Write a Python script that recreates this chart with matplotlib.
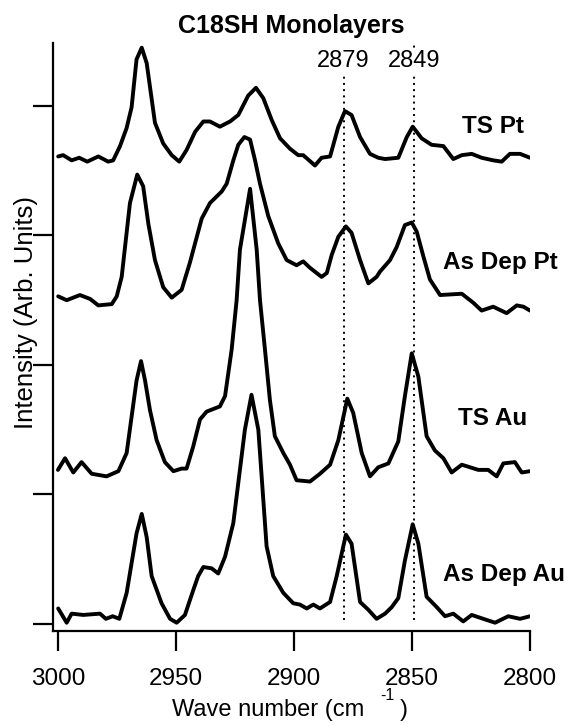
import matplotlib
matplotlib.use("Agg")
import matplotlib.pyplot as plt

plt.rcParams['font.family'] = ['Liberation Sans', 'DejaVu Sans']

# ---------------- data ----------------
trace_names = ["TS Pt", "As Dep Pt", "TS Au", "As Dep Au"]
offsets = [3, 2, 1, 0]

ts_pt_wn = [2999.9, 2997.8, 2994.2, 2991.0, 2987.6, 2982.9, 2978.7, 2976.6, 2973.7, 2970.9,
            2968.8, 2966.7, 2964.5, 2962.4, 2958.9, 2955.4, 2951.8, 2948.6, 2945.5, 2941.9,
            2938.4, 2935.6, 2931.4, 2927.1, 2923.6, 2919.4, 2916.1, 2913.0, 2909.4, 2905.9,
            2901.7, 2898.2, 2896.1, 2891.1, 2888.3, 2884.7, 2881.2, 2878.4, 2875.6, 2872.0,
            2867.8, 2864.3, 2861.4, 2855.8, 2852.2, 2849.7, 2845.9, 2841.7, 2836.7, 2832.5,
            2828.9, 2824.7, 2820.5, 2815.6, 2812.0, 2808.5, 2804.2, 2800.0]
ts_pt_int = [0.61, 0.62, 0.58, 0.60, 0.57, 0.61, 0.57, 0.58, 0.69, 0.83,
             0.99, 1.36, 1.45, 1.33, 0.87, 0.71, 0.62, 0.57, 0.66, 0.80,
             0.88, 0.88, 0.84, 0.88, 0.93, 1.08, 1.14, 1.06, 0.89, 0.75,
             0.67, 0.62, 0.62, 0.54, 0.60, 0.61, 0.84, 0.96, 0.93, 0.76,
             0.63, 0.60, 0.59, 0.60, 0.76, 0.84, 0.75, 0.70, 0.69, 0.59,
             0.62, 0.63, 0.60, 0.58, 0.57, 0.63, 0.63, 0.60]

asdep_pt_wn = [2999.9, 2996.3, 2990.7, 2986.4, 2982.9, 2977.2, 2975.1, 2973.0, 2969.5, 2966.4,
               2963.9, 2961.7, 2958.9, 2955.4, 2951.8, 2947.6, 2944.1, 2941.9, 2939.1, 2935.6,
               2930.6, 2928.5, 2925.7, 2923.6, 2921.0, 2918.6, 2916.5, 2914.4, 2910.9, 2906.7,
               2903.1, 2898.9, 2896.1, 2893.2, 2888.3, 2886.1, 2884.0, 2881.2, 2878.0, 2875.6,
               2872.0, 2868.5, 2865.0, 2863.6, 2859.3, 2856.5, 2853.0, 2850.1, 2848.0, 2845.2,
               2842.4, 2838.1, 2828.9, 2824.0, 2820.5, 2815.6, 2809.9, 2805.6, 2802.8, 2800.0]
asdep_pt_int = [0.53, 0.50, 0.54, 0.51, 0.46, 0.47, 0.53, 0.68, 1.25, 1.47,
                1.38, 1.09, 0.81, 0.60, 0.52, 0.58, 0.79, 0.94, 1.13, 1.25,
                1.34, 1.40, 1.58, 1.70, 1.76, 1.74, 1.58, 1.40, 1.15, 0.94,
                0.81, 0.77, 0.80, 0.75, 0.68, 0.71, 0.85, 0.99, 1.07, 1.02,
                0.81, 0.63, 0.68, 0.72, 0.81, 0.91, 1.08, 1.10, 1.03, 0.84,
                0.66, 0.54, 0.55, 0.48, 0.42, 0.45, 0.40, 0.46, 0.45, 0.42]

ts_au_wn = [3000.0, 2997.0, 2993.5, 2990.0, 2985.7, 2979.4, 2974.4, 2970.9, 2968.8, 2966.7,
            2964.8, 2963.1, 2961.0, 2958.2, 2954.7, 2951.1, 2947.6, 2945.5, 2942.7, 2939.8,
            2937.0, 2931.4, 2929.2, 2926.4, 2924.3, 2922.9, 2918.6, 2915.8, 2914.4, 2912.3,
            2910.2, 2908.1, 2904.5, 2901.7, 2898.9, 2893.2, 2889.0, 2884.7, 2881.2, 2877.4,
            2874.9, 2871.3, 2867.8, 2864.3, 2860.0, 2855.8, 2853.0, 2850.1, 2847.3, 2843.8,
            2840.3, 2836.7, 2833.2, 2828.9, 2821.9, 2817.7, 2814.1, 2811.3, 2806.4, 2803.5,
            2800.0]
ts_au_int = [0.19, 0.28, 0.17, 0.25, 0.16, 0.14, 0.18, 0.32, 0.60, 0.88,
             1.03, 0.88, 0.65, 0.42, 0.25, 0.18, 0.20, 0.20, 0.37, 0.58,
             0.64, 0.68, 0.76, 1.12, 1.50, 1.89, 2.36, 1.89, 1.50, 1.12,
             0.73, 0.45, 0.32, 0.23, 0.11, 0.10, 0.16, 0.23, 0.42, 0.74,
             0.63, 0.32, 0.14, 0.21, 0.24, 0.41, 0.76, 1.09, 0.91, 0.45,
             0.34, 0.28, 0.17, 0.23, 0.19, 0.19, 0.14, 0.24, 0.25, 0.17,
             0.18]

asdep_au_wn = [2999.9, 2996.3, 2994.2, 2989.3, 2982.2, 2979.7, 2976.8, 2974.0, 2970.9, 2968.8,
               2966.7, 2964.5, 2962.4, 2960.3, 2956.1, 2952.5, 2949.7, 2946.2, 2942.7, 2940.6,
               2938.4, 2934.9, 2932.1, 2929.2, 2925.7, 2920.8, 2918.0, 2915.1, 2911.6, 2908.8,
               2904.5, 2900.3, 2897.5, 2894.6, 2891.8, 2889.0, 2884.7, 2881.9, 2878.0, 2875.6,
               2872.0, 2868.5, 2865.0, 2861.4, 2858.6, 2855.8, 2853.0, 2849.7, 2847.3, 2843.8,
               2839.5, 2836.0, 2832.5, 2828.3, 2824.7, 2819.8, 2814.8, 2809.2, 2804.2, 2800.0]
asdep_au_int = [0.12, 0.01, 0.08, 0.07, 0.08, 0.04, 0.06, 0.04, 0.24, 0.47,
                0.70, 0.85, 0.67, 0.37, 0.16, 0.04, 0.01, 0.07, 0.26, 0.37,
                0.44, 0.43, 0.39, 0.52, 0.78, 1.50, 1.77, 1.50, 0.60, 0.37,
                0.24, 0.16, 0.15, 0.12, 0.15, 0.12, 0.17, 0.37, 0.69, 0.62,
                0.17, 0.11, 0.04, 0.08, 0.13, 0.20, 0.49, 0.77, 0.62, 0.21,
                0.13, 0.06, 0.08, 0.02, 0.07, 0.04, 0.01, 0.06, 0.04, 0.06]

marker_wn = [2879, 2849]
marker_labels = ["2879", "2849"]
marker_top = [4.25, 4.47]
xticks = [3000, 2950, 2900, 2850, 2800]
yticks = [0, 1, 2, 3, 4]

traces_wn = [ts_pt_wn, asdep_pt_wn, ts_au_wn, asdep_au_wn]
traces_int = [ts_pt_int, asdep_pt_int, ts_au_int, asdep_au_int]

# label placement (wavenumber of left edge, baseline height)
label_wn = [2828.8, 2836.9, 2830.5, 2836.9]
label_y = [3.79, 2.74, 1.54, 0.33]

# ---------------- figure ----------------
W, H = 569, 725
fig = plt.figure(figsize=(W / 100, H / 100), dpi=100)
ax = fig.add_axes([53 / W, 1 - 631 / H, (530 - 53) / W, (631 - 43) / H])

for wn, inten, off in zip(traces_wn, traces_int, offsets):
    ax.plot(wn, [v + off for v in inten], color='black', lw=2.8,
            solid_joinstyle='round', solid_capstyle='round')

for wn, lab, top in zip(marker_wn, marker_labels, marker_top):
    ax.plot([wn, wn], [0.03, top], color='black', lw=1.4,
            linestyle=(0, (1, 2.2)), clip_on=False)
    ax.text(wn, 4.30, lab, ha='center', va='baseline', fontsize=17,
            bbox=dict(facecolor='white', edgecolor='none', pad=0.5))

for name, lx, ly in zip(trace_names, label_wn, label_y):
    ax.text(lx, ly, name, ha='left', va='baseline', fontsize=17.5,
            fontweight='bold', clip_on=False)

ax.set_xlim(3002.1, 2800)
ax.set_ylim(-0.054, 4.486)
ax.set_xticks(xticks)
ax.set_xticklabels([str(t) for t in xticks])
ax.set_yticks(yticks)
ax.set_yticklabels([])

for s in ['top', 'right']:
    ax.spines[s].set_visible(False)
for s in ['left', 'bottom']:
    ax.spines[s].set_linewidth(1.6)

ax.tick_params(axis='both', direction='out', length=14.5, width=1.6,
               labelsize=17.5, pad=12)

ax.set_title("C18SH Monolayers", fontsize=18, fontweight='bold', pad=7)

# x-axis label: "Wave number (cm -1)" with superscript -1
fig.text(171.5 / W, 1 - 716 / H, "Wave number (cm", ha='left',
         va='baseline', fontsize=17)
fig.text(380 / W, 1 - 700 / H, "-1", ha='left', va='baseline', fontsize=11.5)
fig.text(400 / W, 1 - 716 / H, ")", ha='left', va='baseline', fontsize=17)

fig.text(26 / W, 1 - 312 / H, "Intensity (Arb. Units)", rotation=90,
         ha='center', va='center', fontsize=18.5)

fig.savefig("out.png", dpi=100)
